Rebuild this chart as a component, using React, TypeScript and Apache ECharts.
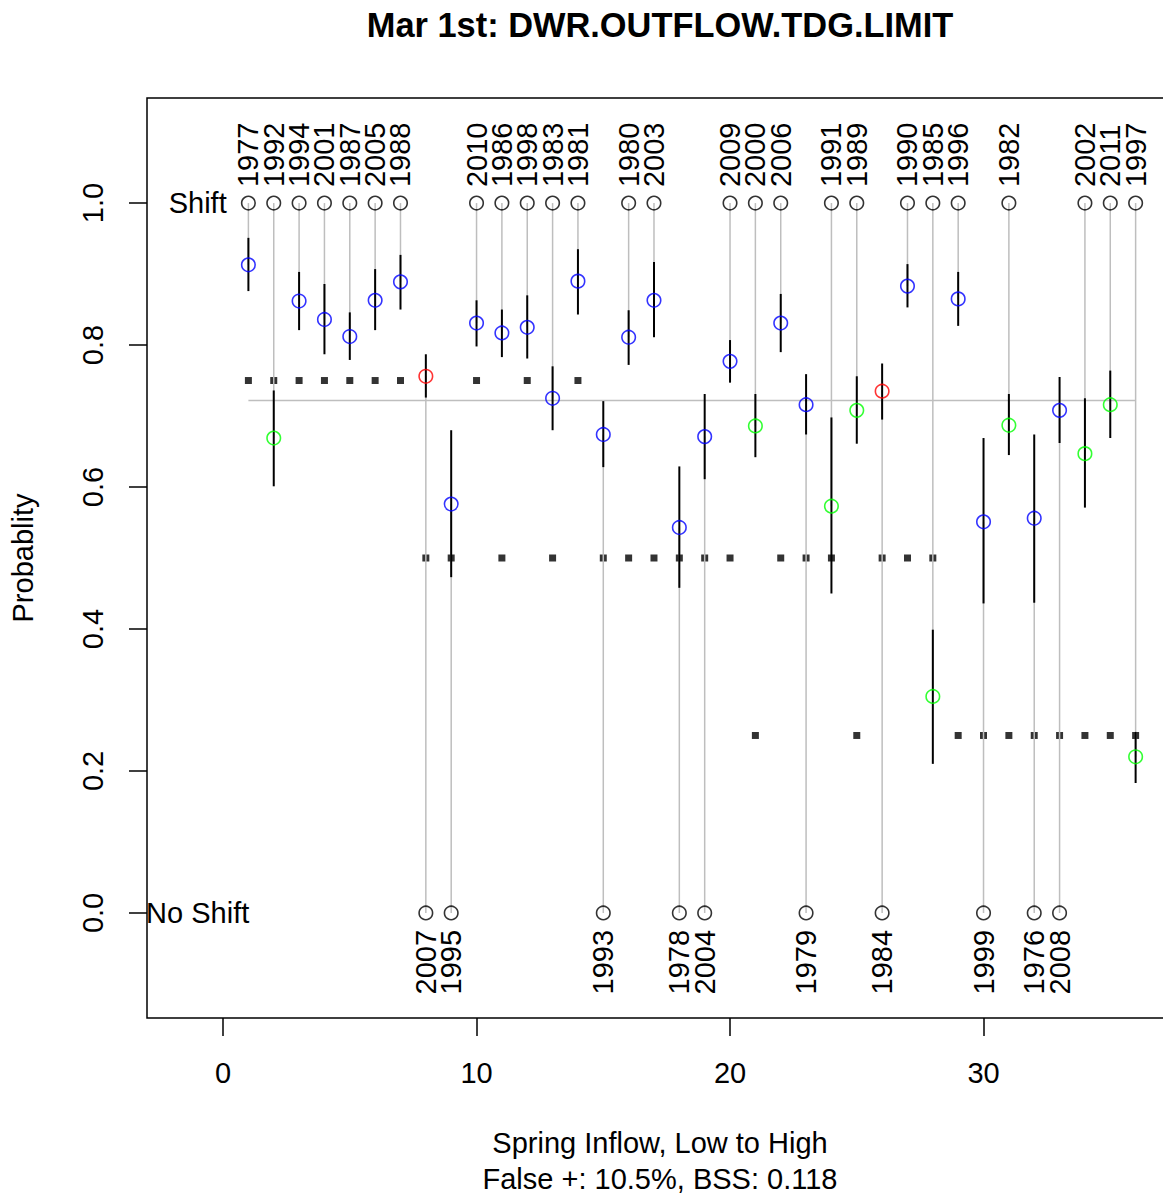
import React, { useEffect, useRef } from "react";
import * as echarts from "echarts";

const FONT = '"Liberation Sans", Arial, Helvetica, sans-serif';

// Data (x = rank of spring inflow, 1..36)
const years = [1977, 1992, 1994, 2001, 1987, 2005, 1988, 2007, 1995, 2010, 1986, 1998, 1983, 1981, 1993, 1980, 2003, 1978, 2004, 2009, 2000, 2006, 1979, 1991, 1989, 1984, 1990, 1985, 1996, 1999, 1982, 1976, 2008, 2002, 2011, 1997];
const observed = [1, 1, 1, 1, 1, 1, 1, 0, 0, 1, 1, 1, 1, 1, 0, 1, 1, 0, 0, 1, 1, 1, 0, 1, 1, 0, 1, 1, 1, 0, 1, 0, 0, 1, 1, 1];
const probability = [0.913, 0.669, 0.862, 0.836, 0.812, 0.863, 0.889, 0.756, 0.576, 0.831, 0.817, 0.825, 0.725, 0.890, 0.674, 0.811, 0.863, 0.543, 0.671, 0.777, 0.686, 0.831, 0.716, 0.573, 0.708, 0.735, 0.883, 0.305, 0.865, 0.551, 0.687, 0.556, 0.708, 0.647, 0.716, 0.220];
const lower = [0.876, 0.601, 0.821, 0.787, 0.779, 0.821, 0.850, 0.726, 0.473, 0.798, 0.783, 0.781, 0.680, 0.843, 0.628, 0.772, 0.811, 0.458, 0.611, 0.747, 0.642, 0.790, 0.674, 0.450, 0.661, 0.695, 0.853, 0.210, 0.827, 0.436, 0.645, 0.437, 0.662, 0.571, 0.669, 0.183];
const upper = [0.951, 0.736, 0.903, 0.886, 0.846, 0.907, 0.927, 0.787, 0.680, 0.863, 0.850, 0.870, 0.770, 0.935, 0.721, 0.849, 0.917, 0.629, 0.731, 0.807, 0.731, 0.872, 0.759, 0.698, 0.756, 0.774, 0.914, 0.399, 0.903, 0.669, 0.731, 0.674, 0.755, 0.725, 0.764, 0.255];
// outcome: h = correct (blue), m = missed shift (green), f = false positive (red)
const outcome = ["h", "m", "h", "h", "h", "h", "h", "f", "h", "h", "h", "h", "h", "h", "h", "h", "h", "h", "h", "h", "m", "h", "h", "m", "m", "f", "h", "m", "h", "h", "m", "h", "h", "m", "m", "m"];
const squareLevel = [0.75, 0.75, 0.75, 0.75, 0.75, 0.75, 0.75, 0.5, 0.5, 0.75, 0.5, 0.75, 0.5, 0.75, 0.5, 0.5, 0.5, 0.5, 0.5, 0.5, 0.25, 0.5, 0.5, 0.5, 0.25, 0.5, 0.5, 0.5, 0.25, 0.25, 0.25, 0.25, 0.25, 0.25, 0.25, 0.25];
const threshold = 0.722;
const sideLabels = ["Shift", "No Shift"];
const sideLabelY = [1, 0];
const sideLabelX = -1;
const xTicks = [0, 10, 20, 30];
const yTicks = [0, 0.2, 0.4, 0.6, 0.8, 1.0];

const outcomeColor: Record<string, string> = { h: "#0000FF", m: "#00FF00", f: "#FF0000" };

export default function App() {
  const ref = useRef<HTMLDivElement>(null);
  useEffect(() => {
    if (!ref.current) return;
    const chart = echarts.init(ref.current, null, { renderer: "svg" });
    const xs = years.map((_, i) => i + 1);

    const segment = (color: string, width: number) => (params: any, api: any) => {
      const x = api.value(0);
      const p1 = api.coord([x, api.value(1)]);
      const p2 = api.coord([x, api.value(2)]);
      return {
        type: "line",
        shape: { x1: p1[0], y1: p1[1], x2: p2[0], y2: p2[1] },
        style: { stroke: color, lineWidth: width },
      };
    };

    const option: any = {
      animation: false,
      grid: { left: 147, top: 98, width: 1016, height: 920, show: false },
      xAxis: {
        type: "value", min: -3.0, max: 37.08,
        axisLine: { show: false, onZero: false },
        splitLine: { show: false },
        axisTick: { show: true, length: 18, lineStyle: { color: "#000", width: 1.5 }, customValues: xTicks },
        axisLabel: { customValues: xTicks, fontSize: 29, color: "#000", margin: 40, fontFamily: FONT },
      },
      yAxis: {
        type: "value", min: -0.148, max: 1.148,
        axisLine: { show: false, onZero: false },
        splitLine: { show: false },
        axisTick: { show: true, length: 18, lineStyle: { color: "#000", width: 1.5 }, customValues: yTicks },
        axisLabel: {
          customValues: yTicks, fontSize: 29, color: "#000", margin: 40, rotate: 90, fontFamily: FONT,
          formatter: (v: number) => v.toFixed(1),
        },
      },
      graphic: [
        { type: "polyline", z: 10, shape: { points: [[1180, 98], [147, 98], [147, 1018], [1180, 1018]] }, style: { stroke: "#000", lineWidth: 1.5, fill: null } },
        { type: "text", x: 660, y: 25, style: { text: "Mar 1st: DWR.OUTFLOW.TDG.LIMIT", font: `bold 34.4px ${FONT}`, fill: "#000", align: "center", verticalAlign: "middle" } },
        { type: "text", x: 660, y: 1143, style: { text: "Spring Inflow, Low to High", font: `29px ${FONT}`, fill: "#000", align: "center", verticalAlign: "middle" } },
        { type: "text", x: 660, y: 1179, style: { text: "False +: 10.5%, BSS: 0.118", font: `29px ${FONT}`, fill: "#000", align: "center", verticalAlign: "middle" } },
        { type: "text", x: 23, y: 558, rotation: Math.PI / 2, style: { text: "Probablity", font: `29px ${FONT}`, fill: "#000", align: "center", verticalAlign: "middle" } },
      ],
      series: [
        {
          type: "scatter", z: 1, symbol: "rect", symbolSize: 7,
          itemStyle: { color: "#000" },
          data: xs.map((x, i) => [x, squareLevel[i]]),
        },
        {
          type: "custom", z: 2, renderItem: segment("#BEBEBE", 1.5),
          encode: { x: 0, y: [1, 2] },
          data: xs.map((x, i) => [x, observed[i], probability[i]]),
        },
        {
          type: "line", z: 2, symbol: "none",
          lineStyle: { color: "#BEBEBE", width: 1.5 },
          data: [[xs[0], threshold], [xs[xs.length - 1], threshold]],
        },
        {
          type: "custom", z: 3, renderItem: segment("#000", 2),
          encode: { x: 0, y: [1, 2] },
          data: xs.map((x, i) => [x, lower[i], upper[i]]),
        },
        {
          type: "scatter", z: 4, symbol: "circle", symbolSize: 13.5,
          data: xs.map((x, i) => ({
            value: [x, probability[i]],
            itemStyle: { color: "rgba(0,0,0,0)", borderColor: outcomeColor[outcome[i]], borderWidth: 1.6 },
          })),
        },
        {
          type: "scatter", z: 4, symbol: "circle", symbolSize: 13.5,
          itemStyle: { color: "rgba(0,0,0,0)", borderColor: "#000", borderWidth: 1.6 },
          data: xs.map((x, i) => [x, observed[i]]),
        },
        {
          type: "custom", z: 5,
          encode: { x: 0, y: 1 },
          data: xs.map((x, i) => [x, observed[i], years[i]]),
          renderItem: (params: any, api: any) => {
            const obs = api.value(1);
            const p = api.coord([api.value(0), obs]);
            const up = obs === 1;
            return {
              type: "text",
              x: p[0],
              y: up ? p[1] - 16 : p[1] + 17,
              rotation: Math.PI / 2,
              style: {
                text: String(api.value(2)),
                font: `29px ${FONT}`,
                fill: "#000",
                align: up ? "left" : "right",
                verticalAlign: "middle",
              },
            };
          },
        },
        {
          type: "custom", z: 5,
          encode: { x: 0, y: 1 },
          data: sideLabels.map((t, i) => [sideLabelX, sideLabelY[i], i]),
          renderItem: (params: any, api: any) => {
            const p = api.coord([api.value(0), api.value(1)]);
            return {
              type: "text", x: p[0], y: p[1],
              style: { text: sideLabels[api.value(2)], font: `29px ${FONT}`, fill: "#000", align: "center", verticalAlign: "middle" },
            };
          },
        },
      ],
    };
    chart.setOption(option);
    return () => chart.dispose();
  }, []);
  return <div ref={ref} style={{ position: "absolute", left: 0, top: 0, width: 1163, height: 1196 }} />;
}
